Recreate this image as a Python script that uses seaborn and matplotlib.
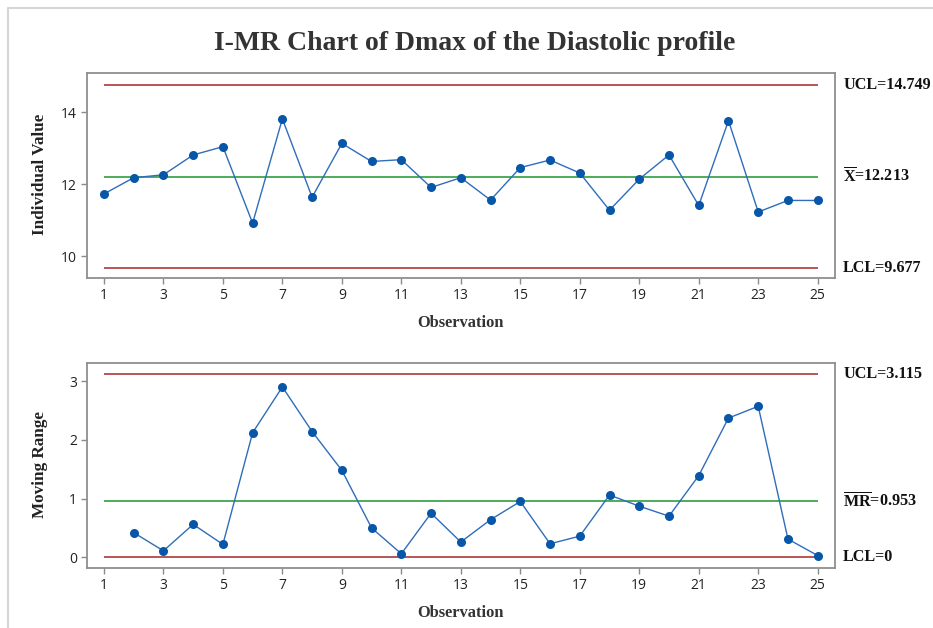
import numpy as np
import pandas as pd
import matplotlib
matplotlib.use("Agg")
import matplotlib.pyplot as plt
from matplotlib.lines import Line2D
import seaborn as sns

# ---- data ----
observation = list(range(1, 26))
individual = [11.73, 12.18, 12.26, 12.81, 13.04, 10.92, 13.81, 11.64, 13.13, 12.63,
              12.68, 11.91, 12.18, 11.56, 12.46, 12.67, 12.31, 11.28, 12.14, 12.81,
              11.41, 13.76, 11.23, 11.55, 11.55]
moving_range = [np.nan, 0.42, 0.11, 0.56, 0.22, 2.12, 2.90, 2.14, 1.48, 0.50,
                0.06, 0.75, 0.26, 0.64, 0.95, 0.23, 0.36, 1.06, 0.87, 0.70,
                1.39, 2.37, 2.57, 0.31, 0.03]
i_limits = {"UCL": 14.749, "CL": 12.213, "LCL": 9.677}
mr_limits = {"UCL": 3.115, "CL": 0.953, "LCL": 0.0}
i_labels = ["UCL=14.749", r"$\overline{\mathbf{X}}$=12.213", "LCL=9.677"]
mr_labels = ["UCL=3.115", r"$\overline{\mathbf{MR}}$=0.953", "LCL=0"]
i_yticks = [10, 12, 14]
mr_yticks = [0, 1, 2, 3]
xticks = list(range(1, 26, 2))
title = "I-MR Chart of Dmax of the Diastolic profile"

df = pd.DataFrame({"Observation": observation, "Individual": individual,
                   "MR": moving_range})

sns.set_style("white")
plt.rcParams["font.family"] = ["Open Sans", "DejaVu Sans"]
plt.rcParams["mathtext.fontset"] = "custom"
plt.rcParams["mathtext.rm"] = "Liberation Serif"
plt.rcParams["mathtext.bf"] = "Liberation Serif:bold"

fig = plt.figure(figsize=(9.33, 6.28), dpi=100)
ax1 = fig.add_axes([0.0929, 0.5568, 0.802, 0.3265])
ax2 = fig.add_axes([0.0929, 0.0951, 0.802, 0.3264])

RED = "#ab3a3a"
GREEN = "#2e9e3e"
LINE = "#2f6dbb"
DOT = "#0756a8"
SERIF = ["Liberation Serif", "DejaVu Serif"]


def draw(ax, col, limits, labels, yticks, ylim, ylabel):
    for key, c in (("UCL", RED), ("CL", GREEN), ("LCL", RED)):
        ax.hlines(limits[key], observation[0], observation[-1], color=c, lw=1.2, zorder=1)
    sns.lineplot(data=df, x="Observation", y=col, ax=ax, color=LINE, lw=1.0,
                 marker="o", markersize=6.5, markerfacecolor=DOT,
                 markeredgewidth=0, zorder=3)
    ax.set_xlim(0.42, 25.58)
    ax.set_ylim(*ylim)
    ax.set_xticks(xticks)
    ax.set_yticks(yticks)
    ax.tick_params(direction="out", length=4, width=1, color="#8a8a8a",
                   labelcolor="#222222", labelsize=10, pad=3,
                   bottom=True, left=True)
    for s in ax.spines.values():
        s.set_color("#8f8f8f")
        s.set_linewidth(1.3)
    ax.set_xlabel("Observation", family=SERIF, weight="bold", fontsize=11.8,
                  color="#333333", va="center")
    ax.xaxis.set_label_coords(0.5, -0.218)
    ax.set_ylabel(ylabel, family=SERIF, weight="bold", fontsize=12.3,
                  color="#222222", va="center")
    ax.yaxis.set_label_coords(-0.062, 0.505)
    for key, lab in zip(("UCL", "CL", "LCL"), labels):
        ax.annotate(lab, xy=(1.011, limits[key]),
                    xycoords=("axes fraction", "data"),
                    ha="left", va="center", family=SERIF, weight="bold",
                    fontsize=11.6, color="#111111", annotation_clip=False)


draw(ax1, "Individual", i_limits, i_labels, i_yticks, (9.392, 15.073), "Individual Value")
draw(ax2, "MR", mr_limits, mr_labels, mr_yticks, (-0.187, 3.302), "Moving Range")

fig.text(0.509, 0.9315, title, ha="center", va="center", family=SERIF,
         weight="bold", fontsize=20, color="#333333")

# outer frame lines
fig.add_artist(Line2D([0.009, 1.0], [0.9868, 0.9868], transform=fig.transFigure,
                      color="#d6d6d6", lw=1.5))
fig.add_artist(Line2D([0.009, 0.009], [0.0, 0.9868], transform=fig.transFigure,
                      color="#d6d6d6", lw=1.5))

fig.savefig("out.png", dpi=100, facecolor="white")
